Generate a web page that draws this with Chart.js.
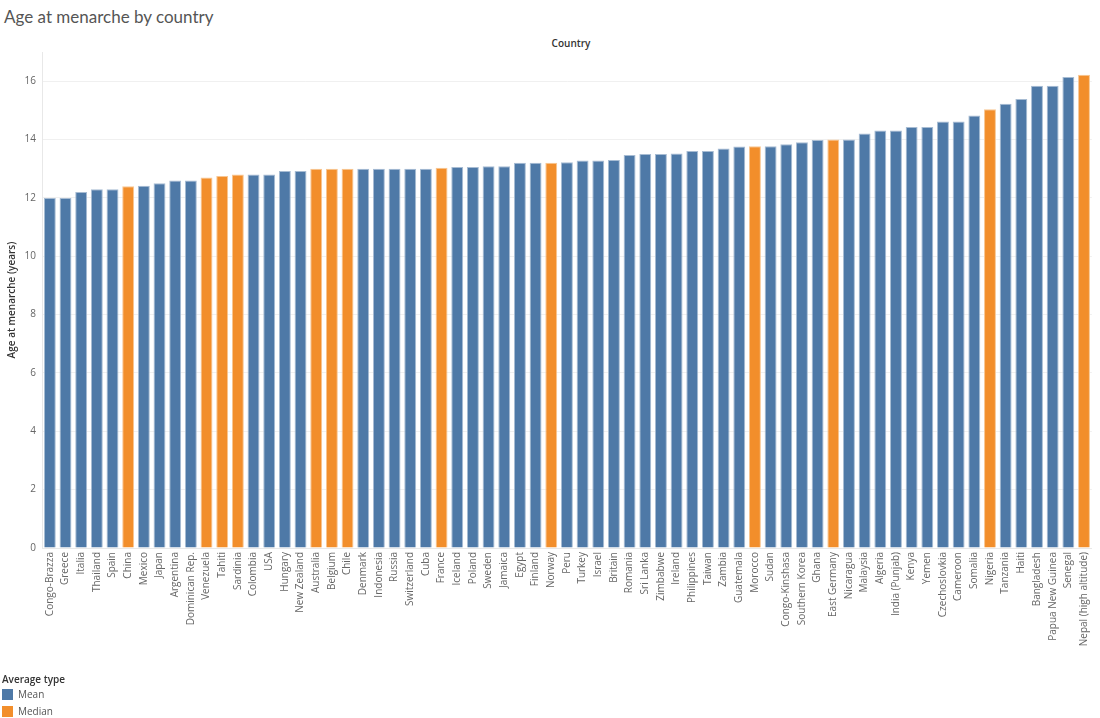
<!DOCTYPE html>
<html>
<head>
<meta charset="utf-8">
<script src="https://cdn.jsdelivr.net/npm/chart.js@4"></script>
<style>
  html, body { margin:0; padding:0; background:#fff; width:1100px; height:718px; overflow:hidden; font-family:"Open Sans", sans-serif; }
  #title { position:absolute; left:4px; top:6px; font-family:Lato, sans-serif; font-size:17px; color:#555; white-space:nowrap; }
  #header { position:absolute; left:0; width:1142px; top:36px; text-align:center; font-size:10px; font-weight:600; color:#333; }
  #wrap { position:absolute; left:0; top:40px; width:1100px; height:678px; }
  #legend { position:absolute; left:2px; top:673px; font-size:10px; color:#333; }
  #legend .lt { font-weight:600; line-height:13px; height:13px; }
  #legend .it { display:flex; align-items:center; height:17px; line-height:17px; color:#555; }
  #legend .sw { width:11px; height:11px; margin-right:5px; }
</style>
</head>
<body>
<div id="title">Age at menarche by country</div>
<div id="header">Country</div>
<div id="wrap"><canvas id="c"></canvas></div>
<div id="legend">
  <div class="lt">Average type</div>
  <div class="it"><div class="sw" style="background:#4e79a7"></div>Mean</div>
  <div class="it"><div class="sw" style="background:#f28e2b"></div>Median</div>
</div>
<script>
const countries = ["Congo-Brazza","Greece","Italia","Thailand","Spain","China","Mexico","Japan","Argentina","Dominican Rep.","Venezuela","Tahiti","Sardinia","Colombia","USA","Hungary","New Zealand","Australia","Belgium","Chile","Denmark","Indonesia","Russia","Switzerland","Cuba","France","Iceland","Poland","Sweden","Jamaica","Egypt","Finland","Norway","Peru","Turkey","Israel","Britain","Romania","Sri Lanka","Zimbabwe","Ireland","Philippines","Taiwan","Zambia","Guatemala","Morocco","Sudan","Congo-Kinshasa","Southern Korea","Ghana","East Germany","Nicaragua","Malaysia","Algeria","India (Punjab)","Kenya","Yemen","Czechoslovkia","Cameroon","Somalia","Nigeria","Tanzania","Haiti","Bangladesh","Papua New Guinea","Senegal","Nepal (high altitude)"];
const ages = [12.0,12.0,12.2,12.3,12.3,12.4,12.42,12.5,12.6,12.6,12.7,12.75,12.8,12.8,12.8,12.92,12.92,13.0,13.0,13.0,13.0,13.0,13.0,13.0,13.0,13.03,13.06,13.06,13.08,13.08,13.2,13.2,13.2,13.22,13.28,13.28,13.3,13.47,13.5,13.5,13.52,13.61,13.61,13.69,13.76,13.77,13.77,13.84,13.91,13.98,14.0,14.0,14.21,14.31,14.31,14.43,14.43,14.62,14.62,14.82,15.04,15.23,15.39,15.84,15.84,16.14,16.22];
const averageType = ["Mean","Mean","Mean","Mean","Mean","Median","Mean","Mean","Mean","Mean","Median","Median","Median","Mean","Mean","Mean","Mean","Median","Median","Median","Mean","Mean","Mean","Mean","Mean","Median","Mean","Mean","Mean","Mean","Mean","Mean","Median","Mean","Mean","Mean","Mean","Mean","Mean","Mean","Mean","Mean","Mean","Mean","Mean","Median","Mean","Mean","Mean","Mean","Median","Mean","Mean","Mean","Mean","Mean","Mean","Mean","Mean","Mean","Median","Mean","Mean","Mean","Mean","Mean","Median"];
const yTicks = [0,2,4,6,8,10,12,14,16];

const typeColor = { Mean: "#4e79a7", Median: "#f28e2b" };
const typeBorder = { Mean: "#a7bcd3", Median: "#f8c692" };

new Chart(document.getElementById("c"), {
  type: "bar",
  data: {
    labels: countries,
    datasets: [{
      label: "Age at menarche",
      data: ages,
      backgroundColor: averageType.map(t => typeColor[t]),
      borderColor: averageType.map(t => typeBorder[t]),
      borderWidth: 1,
      barPercentage: 0.76,
      categoryPercentage: 1.0
    }]
  },
  options: {
    responsive: true,
    maintainAspectRatio: false,
    animation: false,
    layout: { padding: { top: 10, right: 0, left: 0, bottom: 0 } },
    plugins: { legend: { display: false }, tooltip: { enabled: false } },
    scales: {
      x: {
        offset: true,
        grid: { display: false, drawTicks: false },
        border: { display: true, color: "#e8e8e8" },
        ticks: {
          autoSkip: false, minRotation: 90, maxRotation: 90, padding: 4,
          color: "#666", font: { family: "'Open Sans', sans-serif", size: 10 }
        },
        afterFit: s => { s.height = 170; }
      },
      y: {
        min: 0, max: 17,
        afterBuildTicks: s => { s.ticks = yTicks.map(v => ({ value: v })); },
        grid: { color: "#f0f0f0", drawTicks: false },
        border: { display: true, color: "#e8e8e8" },
        ticks: { padding: 6, color: "#666", font: { family: "'Open Sans', sans-serif", size: 10 } },
        title: { display: true, text: "Age at menarche (years)", color: "#333", padding: { top: 6, bottom: 0 },
                 font: { family: "'Open Sans', sans-serif", size: 10, weight: "600" } },
        afterFit: s => { s.width = 42; }
      }
    }
  }
});
</script>
</body>
</html>
